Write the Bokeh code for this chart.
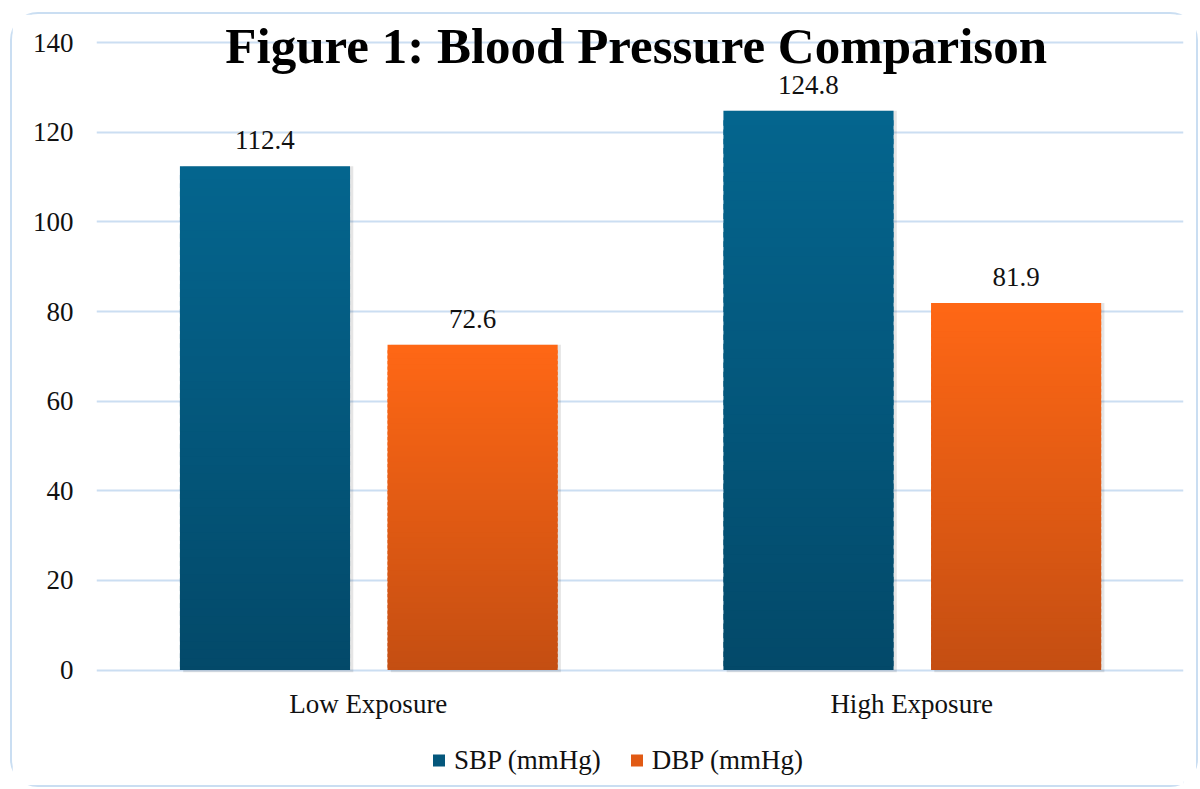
from bokeh.plotting import figure
from bokeh.layouts import column
from bokeh.models import (FactorRange, Range1d, ColumnDataSource, Legend, LegendItem,
                          Label, FixedTicker, Grid)
from bokeh.transform import dodge
from bokeh.core.properties import value
from bokeh.embed import file_html
from bokeh.resources import INLINE

# ---- data ----
categories = ["Low Exposure", "High Exposure"]
sbp = [112.4, 124.8]
dbp = [72.6, 81.9]
series_names = ["SBP (mmHg)", "DBP (mmHg)"]
y_ticks = [0, 20, 40, 60, 80, 100, 120, 140]
title_text = "Figure 1: Blood Pressure Comparison"

# ---- style ----
FONT = "Liberation Serif"
FS = "27px"
blue_top, blue_bottom = (4, 101, 142), (3, 73, 105)
orange_top, orange_bottom = (254, 103, 21), (196, 78, 18)
grid_color = "#cbdef2"
bar_width = 0.313
offsets = [-0.19, 0.192]
N_SLICES = 60

p = figure(x_range=FactorRange(factors=categories), y_range=Range1d(-1, 145.4),
           width=1184, height=720, output_backend="svg", toolbar_location=None,
           min_border_left=84, min_border_right=13, min_border_top=4, min_border_bottom=60)
p.outline_line_color = None
p.background_fill_color = "white"
p.border_fill_color = "white"

# axes
p.yaxis.ticker = FixedTicker(ticks=y_ticks)
for ax in (p.xaxis[0], p.yaxis[0]):
    ax.axis_line_color = None
    ax.major_tick_line_color = None
    ax.minor_tick_line_color = None
    ax.major_tick_out = 0
    ax.major_tick_in = 0
    ax.major_label_text_font = FONT
    ax.major_label_text_font_size = FS
    ax.major_label_text_color = "#111111"
p.yaxis.major_label_standoff = 23
p.xaxis.major_label_standoff = 14
p.xgrid.grid_line_color = None
p.ygrid.grid_line_color = grid_color
p.ygrid.grid_line_width = 2


def hexc(c):
    return "#%02x%02x%02x" % tuple(int(round(v)) for v in c)


def gradient_source(vals, top_c, bot_c):
    xs, bots, tops, cols = [], [], [], []
    for cat, v in zip(categories, vals):
        for i in range(N_SLICES):
            t = (i + 0.5) / N_SLICES
            xs.append(cat)
            bots.append(max(0.0, v * (i - 0.6) / N_SLICES))
            tops.append(v * (i + 1) / N_SLICES)
            cols.append(hexc([b + (a - b) * t for a, b in zip(top_c, bot_c)]))
    return ColumnDataSource(dict(x=xs, bottom=bots, top=tops, color=cols))


# legend strip (separate small canvas under the chart)
lg = figure(width=1184, height=51, x_range=Range1d(0, 1), y_range=Range1d(0, 1),
            output_backend="svg", toolbar_location=None,
            x_axis_location=None, y_axis_location=None,
            min_border_left=84, min_border_right=13, min_border_top=0, min_border_bottom=0)
lg.outline_line_color = None
lg.background_fill_color = "white"
lg.border_fill_color = "white"
for g in lg.select(type=Grid):
    g.visible = False
    g.grid_line_color = None

series = [(sbp, blue_top, blue_bottom), (dbp, orange_top, orange_bottom)]
legend_items = []
for (vals, tc, bc), off, name in zip(series, offsets, series_names):
    src = ColumnDataSource(dict(x=categories, top=vals,
                                label=["%.1f" % v for v in vals]))
    # soft shadow
    p.vbar(x=dodge("x", off + 0.006, range=p.x_range), top="top", bottom=-0.5,
           width=bar_width, source=src, fill_color="#000000", fill_alpha=0.10,
           line_color=None)
    gsrc = gradient_source(vals, tc, bc)
    p.vbar(x=dodge("x", off, range=p.x_range), bottom="bottom", top="top",
           width=bar_width, source=gsrc, fill_color="color", line_color=None)
    p.text(x=dodge("x", off, range=p.x_range), y="top", text="label", source=src,
           text_align="center", text_baseline="alphabetic", y_offset=-26,
           text_font=value(FONT), text_font_size=FS, text_color="#111111")
    mid = hexc([(a + b) / 2 for a, b in zip(tc, bc)])
    dummy = lg.vbar(x=[-10], bottom=[-6], top=[-5], width=0.01,
                    fill_color=mid, line_color=None)
    legend_items.append(LegendItem(label=name, renderers=[dummy]))

legend = Legend(items=legend_items, orientation="horizontal", location="center_left",
                label_text_font=FONT, label_text_font_size=FS,
                label_text_color="#111111",
                glyph_width=15, glyph_height=15, label_standoff=8, spacing=28,
                border_line_color=None, background_fill_alpha=0,
                padding=0, margin=335)
lg.add_layout(legend, "center")

title = Label(x=0.993, y=139.2, text=title_text, text_align="center",
              text_baseline="alphabetic", text_font=FONT, text_font_style="bold",
              text_font_size="51px", text_color="#000000")
p.add_layout(title)

page = column(p, lg, spacing=0,
              styles={"border": "2px solid #cadef2", "border-radius": "28px",
                      "margin-left": "10px", "margin-top": "12px"})

open("out.html", "w").write(file_html(page, INLINE))
